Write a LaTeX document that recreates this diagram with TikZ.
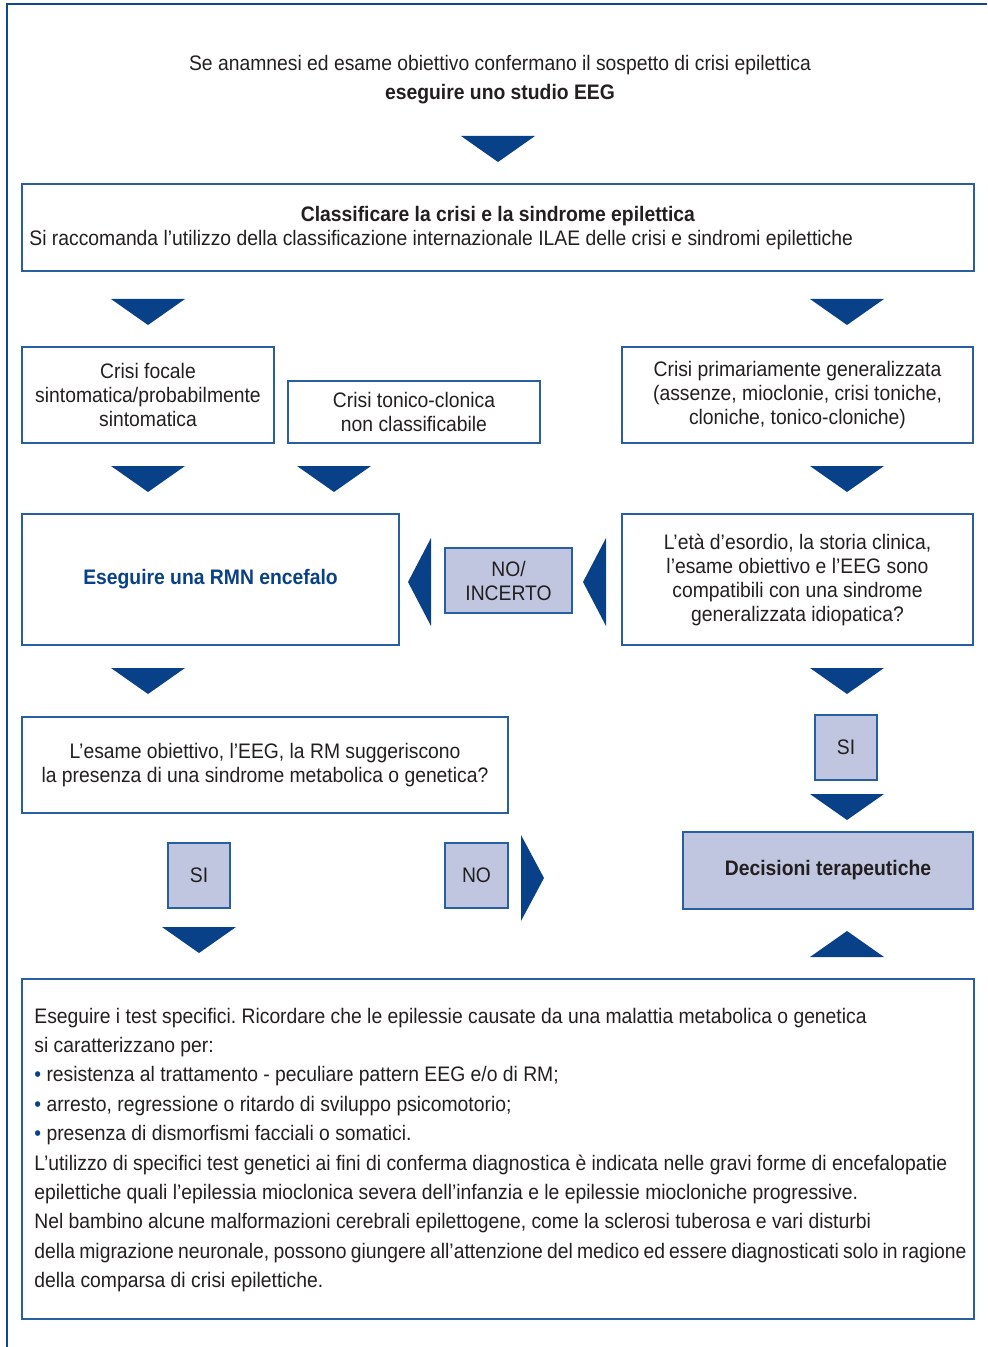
\documentclass[tikz,border=0pt]{standalone}
\usepackage{fontspec}
\setmainfont{Liberation Sans}[FakeStretch=0.92]
\frenchspacing
\definecolor{frameBlue}{RGB}{20, 70, 140}
\definecolor{boxBlue}{RGB}{40, 95, 160}
\definecolor{arrowBlue}{RGB}{8, 65, 135}
\definecolor{choiceFill}{RGB}{192, 198, 224}
\definecolor{textGray}{RGB}{35, 31, 32}
\usetikzlibrary{positioning}

\begin{document}
\begin{tikzpicture}[
      x=0.5pt, y=-0.5pt,
      every node/.style={font=\fontsize{10.5}{12}\selectfont, text=textGray},
      box/.style={rectangle, draw=boxBlue, line width=0.75pt, fill=white, align=center, inner sep=0pt},
      choice/.style={box, fill=choiceFill},
      frame/.style={draw=frameBlue, line width=1.25pt},
      arrowdown/.pic={\fill[arrowBlue] (-37,0) -- (37,0) -- (0,26) -- cycle;},
      arrowup/.pic={\fill[arrowBlue] (-37,0) -- (37,0) -- (0,-26) -- cycle;},
      arrowleft/.pic={\fill[arrowBlue] (0,-44) -- (0,44) -- (-23,0) -- cycle;},
      arrowright/.pic={\fill[arrowBlue] (0,-43) -- (0,43) -- (23,0) -- cycle;}
    ]
      \useasboundingbox (0,0) rectangle (987,1347);
      \draw[frame] (7,1347) -- (7,4) -- (987,4);

      % intro
      \node[align=center, font=\fontsize{10.5}{14.5}\selectfont] (intro) at (500,80)
        {Se anamnesi ed esame obiettivo confermano il sospetto di crisi epilettica\\\textbf{eseguire uno studio EEG}};
      \pic at (498,136) {arrowdown};

      % classificazione
      \node[box, minimum width=476pt, minimum height=43.5pt] (class) at (498,227.5) {};
      \node (classtitle) at (498,216) {\textbf{Classificare la crisi e la sindrome epilettica}};
      \node[anchor=west, inner sep=0pt] (classsub) at (29,240) {Si raccomanda l’utilizzo della classificazione internazionale ILAE delle crisi e sindromi epilettiche};
      \pic at (148,299) {arrowdown};
      \pic at (847,299) {arrowdown};

      % tipi di crisi
      \node[box, minimum width=126pt, minimum height=48pt] (focal) at (148,395)
        {Crisi focale\\sintomatica/probabilmente\\sintomatica};
      \node[box, minimum width=126pt, minimum height=31pt] (tonic) at (414,412)
        {Crisi tonico-clonica\\non classificabile};
      \node[box, minimum width=175.5pt, minimum height=48pt] (gen) at (797.5,395)
        {Crisi primariamente generalizzata\\(assenze, mioclonie, crisi toniche,\\cloniche, tonico-cloniche)};
      \pic at (148,466) {arrowdown};
      \pic at (334,466) {arrowdown};
      \pic at (847,466) {arrowdown};

      % RMN / sindrome idiopatica
      \node[box, minimum width=188.5pt, minimum height=65.5pt, text=arrowBlue] (rmn) at (210.5,579.5)
        {\textbf{Eseguire una RMN encefalo}};
      \node[choice, minimum width=63.5pt, minimum height=32.5pt] (incerto) at (508.5,580.5) {NO/\\INCERTO};
      \node[box, minimum width=175.5pt, minimum height=65.5pt] (eta) at (797.5,579.5)
        {L’età d’esordio, la storia clinica,\\l’esame obiettivo e l’EEG sono\\compatibili con una sindrome\\generalizzata idiopatica?};
      \pic at (431,582) {arrowleft};
      \pic at (606,582) {arrowleft};
      \pic at (148,668) {arrowdown};
      \pic at (847,668) {arrowdown};

      % sindrome metabolica o genetica
      \node[box, minimum width=243pt, minimum height=48pt] (esame) at (265,765)
        {L’esame obiettivo, l’EEG, la RM suggeriscono\\la presenza di una sindrome metabolica o genetica?};
      \node[choice, minimum width=31pt, minimum height=32.5pt] (siright) at (846,747.5) {SI};
      \pic at (847,794) {arrowdown};
      \node[choice, minimum width=145pt, minimum height=38.5pt] (decis) at (828,870.5)
        {\textbf{Decisioni terapeutiche}};
      \node[choice, minimum width=31pt, minimum height=32.5pt] (sileft) at (199,875.5) {SI};
      \node[choice, minimum width=31.5pt, minimum height=32.5pt] (no) at (476.5,875.5) {NO};
      \pic at (521,878) {arrowright};
      \pic at (199,927) {arrowdown};
      \pic at (847,957) {arrowup};

      % test specifici
      \node[box, minimum width=476pt, minimum height=170pt] (tests) at (498,1149) {};
      \node[anchor=west, align=left, inner sep=0pt, font=\fontsize{10.5}{14.7}\selectfont] (teststext) at (34,1150)
        {Eseguire i test specifici. Ricordare che le epilessie causate da una malattia metabolica o genetica\\
         si caratterizzano per:\\
         {\color{arrowBlue}\textbullet} resistenza al trattamento - peculiare pattern EEG e/o di RM;\\
         {\color{arrowBlue}\textbullet} arresto, regressione o ritardo di sviluppo psicomotorio;\\
         {\color{arrowBlue}\textbullet} presenza di dismorfismi facciali o somatici.\\
         L’utilizzo di specifici test genetici ai fini di conferma diagnostica è indicata nelle gravi forme di encefalopatie\\
         epilettiche quali l’epilessia mioclonica severa dell’infanzia e le epilessie miocloniche progressive.\\
         Nel bambino alcune malformazioni cerebrali epilettogene, come la sclerosi tuberosa e vari disturbi\\
         {\spaceskip=2.1pt della migrazione neuronale, possono giungere all’attenzione del medico ed essere diagnosticati solo in ragione}\\
         della comparsa di crisi epilettiche.};
    \end{tikzpicture}
\end{document}
